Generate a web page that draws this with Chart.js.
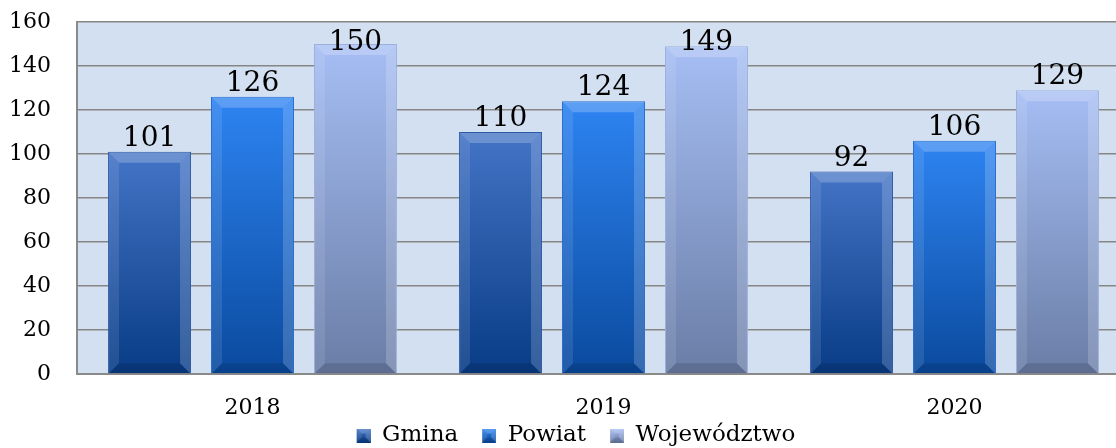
<!DOCTYPE html>
<html>
<head>
<meta charset="utf-8">
<script src="https://cdn.jsdelivr.net/npm/chart.js@4"></script>
<style>
  html, body { margin: 0; padding: 0; background: #fff; overflow: hidden; }
  #wrap { width: 1116px; height: 448px; overflow: hidden; }
</style>
</head>
<body>
<div id="wrap"><canvas id="chart" width="1132" height="457"></canvas></div>
<script>
// data
const categories = ['2018', '2019', '2020'];
const gmina = [101, 110, 92];
const powiat = [126, 124, 106];
const wojewodztwo = [150, 149, 129];
const seriesNames = ['Gmina', 'Powiat', 'Województwo'];
const yMin = 0, yMax = 160, yStep = 20;

// top / bottom colours of each series gradient
const palette = [
    { top: '#4474c6', bottom: '#083c86', border: '#2c5aa6' },
    { top: '#2e84f2', bottom: '#0a4a9e', border: '#2a6fd0' },
    { top: '#a6bef4', bottom: '#6a7da6', border: '#9cb0dc' }
];

function barGradient(c, i) {
    const chart = c.chart;
    if (!chart.chartArea || !c.parsed) return palette[i].top;
    const y = chart.scales.y;
    const top = y.getPixelForValue(c.parsed.y);
    const base = y.getPixelForValue(0);
    const g = chart.ctx.createLinearGradient(0, top, 0, base);
    g.addColorStop(0, palette[i].top);
    g.addColorStop(1, palette[i].bottom);
    return g;
}

function bevel(ctx, x0, y0, x1, y1, b) {
    const polys = [
        [[x0, y0], [x1, y0], [x1 - b, y0 + b], [x0 + b, y0 + b], 'rgba(255,255,255,0.22)'],
        [[x0, y0], [x0 + b, y0 + b], [x0 + b, y1 - b], [x0, y1], 'rgba(255,255,255,0.10)'],
        [[x1, y0], [x1, y1], [x1 - b, y1 - b], [x1 - b, y0 + b], 'rgba(255,255,255,0.18)'],
        [[x0, y1], [x0 + b, y1 - b], [x1 - b, y1 - b], [x1, y1], 'rgba(0,0,0,0.12)']
    ];
    polys.forEach(p => {
        ctx.beginPath();
        ctx.moveTo(p[0][0], p[0][1]);
        for (let k = 1; k < 4; k++) ctx.lineTo(p[k][0], p[k][1]);
        ctx.closePath();
        ctx.fillStyle = p[4];
        ctx.fill();
    });
}

// bevelled legend squares; the transparent strip on the left spaces the items apart
const ICON_GAP = 22, ICON = 14;
const icons = palette.map(p => {
    const cv = document.createElement('canvas');
    cv.width = ICON_GAP + ICON; cv.height = ICON;
    const c = cv.getContext('2d');
    c.translate(ICON_GAP, 0);
    const g = c.createLinearGradient(0, 0, 0, ICON);
    g.addColorStop(0, p.top);
    g.addColorStop(1, p.bottom);
    c.fillStyle = g;
    c.fillRect(0, 0, ICON, ICON);
    bevel(c, 0, 0, ICON, ICON, 5);
    return cv;
});

const plotBackground = {
    id: 'plotBackground',
    beforeDraw(chart) {
        const { ctx, chartArea: a } = chart;
        ctx.save();
        ctx.fillStyle = '#d3e0f1';
        ctx.fillRect(a.left, a.top, a.right - a.left, a.bottom - a.top);
        ctx.restore();
    }
};

const barBevels = {
    id: 'barBevels',
    afterDatasetsDraw(chart) {
        const ctx = chart.ctx;
        ctx.save();
        chart.data.datasets.forEach((ds, i) => {
            chart.getDatasetMeta(i).data.forEach(bar => {
                const x0 = bar.x - bar.width / 2, x1 = bar.x + bar.width / 2;
                bevel(ctx, x0 + 1, bar.y + 1, x1 - 1, bar.base, 10);
            });
        });
        ctx.restore();
    }
};

const valueLabels = {
    id: 'valueLabels',
    afterDatasetsDraw(chart) {
        const ctx = chart.ctx;
        const top = chart.chartArea.top;
        ctx.save();
        ctx.font = '28px "DejaVu Serif"';
        ctx.fillStyle = '#000';
        ctx.textAlign = 'center';
        ctx.textBaseline = 'alphabetic';
        chart.data.datasets.forEach((ds, i) => {
            chart.getDatasetMeta(i).data.forEach((bar, j) => {
                const yText = Math.max(bar.y - 6, top + 28);
                ctx.fillText(ds.data[j], bar.x, yText);
            });
        });
        ctx.restore();
    }
};

const seriesData = [gmina, powiat, wojewodztwo];

new Chart(document.getElementById('chart'), {
    type: 'bar',
    data: {
        labels: categories,
        datasets: seriesData.map((d, i) => ({
            label: seriesNames[i],
            data: d,
            backgroundColor: c => barGradient(c, i),
            borderColor: palette[i].border,
            borderWidth: 1,
            categoryPercentage: 0.88,
            barPercentage: 0.806
        }))
    },
    options: {
        responsive: false,
        animation: false,
        layout: { padding: { top: 22, right: 2, left: 0, bottom: 0 } },
        scales: {
            x: {
                grid: { display: false, drawTicks: false },
                border: { color: '#8a8a8a', width: 2 },
                ticks: { color: '#000', font: { family: 'DejaVu Serif', size: 22 }, padding: 21 },
                afterFit(scale) { scale.height = 48; }
            },
            y: {
                min: yMin,
                max: yMax,
                ticks: { stepSize: yStep, color: '#000', font: { family: 'DejaVu Serif', size: 22 }, padding: 26 },
                grid: { color: '#868686', lineWidth: 1.5, drawTicks: false },
                border: { color: '#8a8a8a', width: 2 },
                afterFit(scale) {
                    scale.width = 77;
                    scale.paddingTop = 0;
                    scale.paddingBottom = 0;
                }
            }
        },
        plugins: {
            tooltip: { enabled: false },
            legend: {
                position: 'bottom',
                labels: {
                    color: '#000',
                    font: { family: 'DejaVu Serif', size: 23 },
                    usePointStyle: true,
                    pointStyleWidth: ICON_GAP + ICON,
                    boxHeight: ICON,
                    padding: 2,
                    generateLabels(chart) {
                        const items = Chart.defaults.plugins.legend.labels.generateLabels(chart);
                        items.forEach((it, i) => { it.pointStyle = icons[i]; });
                        return items;
                    }
                }
            }
        }
    },
    plugins: [plotBackground, barBevels, valueLabels]
});
</script>
</body>
</html>
